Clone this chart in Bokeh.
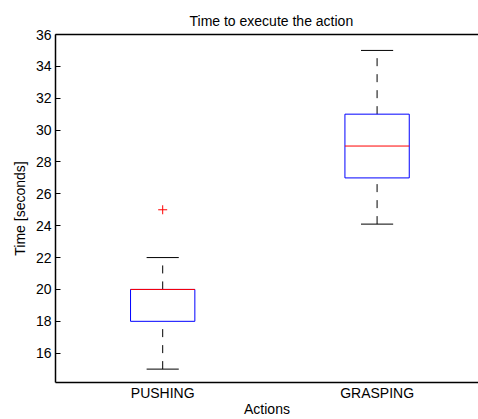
from bokeh.plotting import figure
from bokeh.models import Range1d, FixedTicker, LinearAxis
from bokeh.embed import file_html
from bokeh.resources import INLINE

# ---- data ----
categories = ["PUSHING", "GRASPING"]
lower_whisker = [15.0, 24.1]
q1 = [18.0, 27.0]
median = [20.0, 29.0]
q3 = [20.0, 31.0]
upper_whisker = [22.0, 35.0]
outlier_cat = ["PUSHING"]
outlier_val = [25.0]
y_ticks = [16, 18, 20, 22, 24, 26, 28, 30, 32, 34, 36]

pos = [i + 1 for i in range(len(categories))]
out_pos = [categories.index(c) + 1 for c in outlier_cat]
box_w = 0.30
cap_w = 0.15

FONT = "Liberation Sans"
FS = "14px"

p = figure(width=478, height=419, output_backend="svg", toolbar_location=None,
           x_range=Range1d(0.5, 2.473), y_range=Range1d(14.16, 36.0),
           min_border_left=55, min_border_right=0, min_border_top=34,
           min_border_bottom=36)
p.outline_line_color = None
p.xgrid.visible = False
p.ygrid.visible = False
p.background_fill_color = "white"
p.border_fill_color = "white"

# title
p.title.text = "Time to execute the action"
p.title.align = "left"
p.title.offset = 134
p.title.text_font = FONT
p.title.text_font_size = FS
p.title.text_font_style = "normal"
p.title.text_color = "black"
p.title.standoff = 12

# axes
xa = p.xaxis[0]
xa.ticker = FixedTicker(ticks=pos)
xa.major_label_overrides = {pp: c for pp, c in zip(pos, categories)}
xa.major_tick_in = 0
xa.major_tick_out = 0
xa.minor_tick_in = 0
xa.minor_tick_out = 0
xa.major_label_standoff = 2
xa.axis_label = "Actions"
xa.axis_label_standoff = -3
xa.axis_line_width = 1.5
xa.axis_line_color = "black"

ya = p.yaxis[0]
ya.ticker = FixedTicker(ticks=y_ticks)
ya.major_tick_in = 5
ya.major_tick_out = 0
ya.minor_tick_in = 0
ya.minor_tick_out = 0
ya.major_label_standoff = 4
ya.axis_label = "Time [seconds]"
ya.axis_label_standoff = 5
ya.axis_line_width = 1.5
ya.axis_line_color = "black"

for ax in (xa, ya):
    ax.major_label_text_font = FONT
    ax.major_label_text_font_size = FS
    ax.major_label_text_color = "black"
    ax.axis_label_text_font = FONT
    ax.axis_label_text_font_size = FS
    ax.axis_label_text_font_style = "normal"
    ax.axis_label_text_color = "black"
    ax.major_tick_line_color = "black"

top = LinearAxis(ticker=FixedTicker(ticks=[]), major_label_text_font_size="0px",
                 major_tick_in=0, major_tick_out=0, minor_tick_in=0, minor_tick_out=0,
                 axis_line_width=1.5, axis_line_color="black")
p.add_layout(top, "above")

# whiskers (dashed)
p.segment(x0=pos, y0=q3, x1=pos, y1=upper_whisker, line_color="black",
          line_width=1, line_dash="8 8")
p.segment(x0=pos, y0=lower_whisker, x1=pos, y1=q1, line_color="black",
          line_width=1, line_dash="8 8")
# caps
p.segment(x0=[x - cap_w / 2 for x in pos], y0=upper_whisker,
          x1=[x + cap_w / 2 for x in pos], y1=upper_whisker, line_color="black", line_width=1)
p.segment(x0=[x - cap_w / 2 for x in pos], y0=lower_whisker,
          x1=[x + cap_w / 2 for x in pos], y1=lower_whisker, line_color="black", line_width=1)
# boxes
p.quad(left=[x - box_w / 2 for x in pos], right=[x + box_w / 2 for x in pos],
       bottom=q1, top=q3, fill_color=None, line_color="blue", line_width=1)
# medians
p.segment(x0=[x - box_w / 2 for x in pos], y0=median,
          x1=[x + box_w / 2 for x in pos], y1=median, line_color="red", line_width=1)
# outliers
p.scatter(x=out_pos, y=outlier_val, marker="cross", size=9, line_color="red",
          line_width=1)

open("out.html", "w").write(file_html(p, INLINE))
